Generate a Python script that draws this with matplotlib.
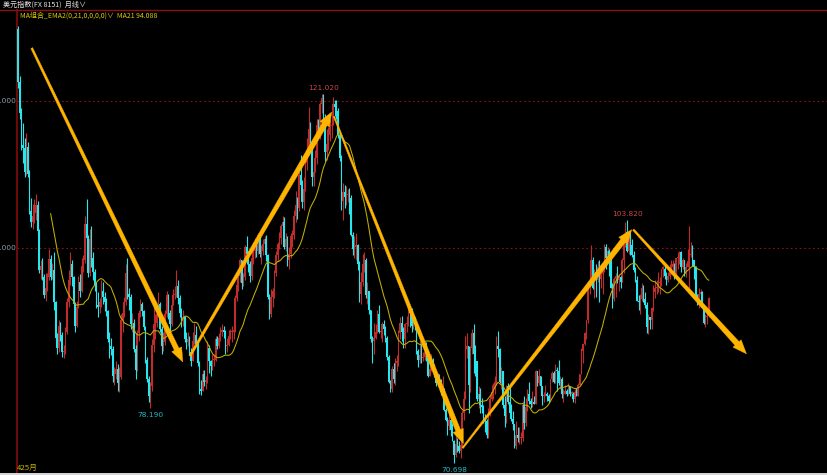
import numpy as np
import pandas as pd
import matplotlib
matplotlib.use("Agg")
import matplotlib.pyplot as plt
from matplotlib.patches import Polygon, Rectangle
from matplotlib.lines import Line2D
import matplotlib.transforms as mtransforms

# ---------------- data: US Dollar Index monthly, Dec 1985 .. Mar 2021 ----------------
FIRST_OPEN = 129.8

CLOSE = [
    122.6,  # 1985-12
    118.4, 114.0, 113.6, 110.4, 113.7, 110.1, 105.0, 103.6, 104.4, 104.8, 105.8, 102.3,  # 1986
    97.0, 97.5, 96.0, 93.6, 94.6, 96.0, 98.5, 96.0, 97.0, 92.6, 87.8, 86.4,  # 1987
    89.4, 88.2, 85.8, 86.0, 88.6, 92.6, 95.6, 97.8, 96.0, 92.4, 89.4, 92.0,  # 1988
    95.4, 94.2, 97.6, 98.4, 103.2, 101.4, 96.6, 101.2, 98.6, 96.8, 95.0, 92.2,  # 1989
    92.0, 92.6, 94.2, 93.4, 92.6, 91.4, 87.6, 86.6, 86.2, 82.6, 82.8, 83.6,  # 1990
    81.6, 82.4, 90.2, 91.2, 92.6, 96.6, 93.8, 93.4, 89.6, 89.8, 86.2, 83.4,  # 1991
    88.4, 91.2, 92.4, 91.4, 89.2, 84.8, 82.2, 79.8, 81.2, 86.8, 89.6, 89.8,  # 1992
    91.0, 92.4, 89.0, 86.6, 87.2, 91.0, 93.6, 91.2, 89.6, 92.2, 93.6, 93.8,  # 1993
    94.8, 93.2, 91.2, 90.2, 90.6, 87.6, 87.2, 87.6, 85.8, 84.6, 87.4, 88.2,  # 1994
    87.0, 84.4, 80.8, 80.6, 82.8, 81.8, 82.0, 86.4, 84.6, 84.0, 84.8, 84.8,  # 1995
    87.6, 86.6, 87.8, 88.6, 88.8, 88.6, 86.6, 86.8, 88.0, 88.6, 88.6, 88.8,  # 1996
    93.2, 95.0, 96.2, 98.4, 95.2, 96.0, 100.2, 99.2, 97.8, 96.2, 98.6, 99.6,  # 1997
    100.4, 99.6, 101.8, 99.2, 99.6, 100.6, 101.2, 99.0, 93.4, 91.0, 93.4, 94.2,  # 1998
    96.6, 99.0, 100.6, 101.4, 103.0, 103.6, 100.2, 101.2, 98.4, 99.2, 101.6, 101.8,  # 1999
    104.4, 105.8, 105.4, 110.0, 108.6, 106.2, 108.0, 111.6, 113.4, 116.2, 114.2, 109.6,  # 2000
    110.4, 112.2, 116.8, 115.6, 119.6, 120.4, 117.0, 113.0, 114.2, 115.4, 116.6, 116.8,  # 2001
    119.6, 119.2, 118.6, 115.4, 112.2, 106.4, 107.6, 107.0, 107.2, 107.2, 106.8, 101.8,  # 2002
    99.8, 100.2, 100.4, 97.8, 93.8, 95.4, 97.8, 98.4, 93.6, 94.2, 91.6, 87.6,  # 2003
    87.4, 87.8, 88.6, 91.0, 88.6, 88.6, 89.6, 89.0, 87.8, 85.2, 81.8, 80.8,  # 2004
    83.6, 82.2, 84.4, 84.6, 88.4, 89.8, 88.6, 87.6, 89.6, 89.8, 91.6, 91.2,  # 2005
    89.4, 90.2, 89.6, 86.0, 84.8, 85.4, 85.0, 85.2, 85.8, 85.0, 82.6, 83.6,  # 2006
    84.8, 83.6, 82.8, 81.6, 82.4, 82.0, 80.4, 80.8, 78.0, 76.6, 75.8, 76.6,  # 2007
    75.2, 73.8, 71.8, 73.4, 73.0, 72.4, 73.2, 77.6, 79.4, 86.2, 86.6, 81.4,  # 2008
    86.4, 88.4, 85.6, 84.6, 79.4, 80.2, 78.6, 78.4, 76.6, 76.4, 74.6, 77.8,  # 2009
    79.4, 80.4, 81.0, 81.8, 86.6, 86.2, 81.8, 83.2, 78.6, 77.2, 81.2, 79.0,  # 2010
    77.6, 76.8, 76.0, 73.0, 74.6, 74.2, 74.2, 74.2, 78.6, 76.2, 78.4, 80.2,  # 2011
    79.2, 78.8, 79.0, 78.8, 83.2, 81.6, 82.6, 81.2, 79.8, 79.8, 80.2, 79.8,  # 2012
    79.2, 82.2, 83.0, 81.8, 83.4, 83.2, 81.6, 82.2, 80.2, 80.2, 80.6, 80.2,  # 2013
    81.2, 80.2, 80.2, 79.4, 80.4, 79.8, 81.4, 82.8, 86.0, 87.0, 88.4, 90.2,  # 2014
    94.8, 95.4, 98.4, 94.6, 96.8, 95.6, 97.4, 95.8, 96.4, 97.0, 100.2, 98.6,  # 2015
    99.6, 98.2, 94.6, 93.0, 95.8, 96.2, 95.6, 96.0, 95.4, 98.4, 101.6, 102.2,  # 2016
    99.6, 101.2, 100.4, 99.0, 97.0, 95.6, 92.8, 92.6, 93.0, 94.6, 93.0, 92.2,  # 2017
    89.2, 90.6, 90.2, 91.8, 94.0, 94.6, 94.6, 95.2, 95.2, 97.2, 97.2, 96.2,  # 2018
    95.6, 96.2, 97.4, 97.4, 97.8, 96.2, 98.6, 98.8, 99.4, 97.4, 98.4, 96.4,  # 2019
    97.4, 98.2, 99.0, 99.0, 98.4, 97.4, 93.4, 92.2, 93.8, 94.0, 91.8, 89.8,  # 2020
    90.6, 90.8, 93.2,  # 2021
]

HIGH = [
    130.2,
    123.4, 119.0, 117.0, 115.0, 115.6, 114.4, 110.6, 106.8, 106.0, 106.6, 107.4, 106.4,
    102.6, 98.4, 98.6, 96.4, 96.6, 96.6, 99.8, 99.0, 98.0, 99.4, 92.8, 88.4,
    90.2, 90.0, 88.6, 86.8, 89.2, 93.2, 97.0, 99.4, 98.4, 96.2, 92.6, 92.8,
    96.2, 96.4, 98.6, 99.0, 104.4, 106.6, 101.8, 102.6, 103.0, 99.4, 97.2, 95.4,
    94.0, 93.2, 95.6, 95.4, 94.0, 93.2, 91.6, 88.6, 87.8, 86.6, 83.8, 84.6,
    84.2, 83.8, 91.0, 92.4, 93.4, 97.8, 98.7, 94.6, 93.8, 91.2, 90.4, 86.8,
    88.8, 91.6, 93.0, 92.6, 91.6, 89.4, 85.2, 82.6, 81.8, 87.6, 92.2, 91.0,
    92.2, 94.0, 92.6, 89.4, 88.6, 91.6, 94.2, 93.8, 91.6, 92.6, 94.4, 94.8,
    97.0, 95.6, 93.6, 91.8, 91.6, 90.8, 88.6, 88.6, 88.0, 86.4, 88.6, 89.8,
    89.4, 87.2, 84.6, 82.0, 83.4, 83.4, 82.6, 87.4, 86.8, 84.8, 85.6, 85.6,
    88.0, 88.0, 88.4, 89.2, 89.6, 89.4, 88.8, 87.8, 88.8, 89.0, 89.4, 89.2,
    93.6, 96.6, 96.8, 98.6, 98.4, 96.6, 100.4, 101.6, 99.6, 98.2, 99.2, 100.8,
    101.4, 101.0, 102.0, 102.2, 100.4, 101.2, 101.6, 101.8, 99.2, 93.8, 94.4, 94.6,
    97.0, 99.6, 100.8, 102.2, 103.2, 104.4, 104.2, 102.0, 101.6, 100.2, 102.0, 102.4,
    105.2, 107.8, 107.0, 110.4, 112.6, 109.2, 109.6, 112.0, 115.0, 119.2, 117.2, 114.4,
    111.4, 113.4, 117.6, 117.6, 119.8, 121.0, 121.02, 118.2, 116.2, 116.4, 117.6, 118.2,
    120.6, 120.2, 120.2, 119.0, 115.8, 112.6, 108.8, 108.6, 108.4, 108.0, 108.2, 107.2,
    102.2, 101.6, 102.0, 100.6, 98.2, 96.8, 99.2, 99.4, 98.6, 95.4, 94.0, 91.6,
    88.0, 89.8, 89.6, 91.6, 92.2, 89.4, 90.0, 90.2, 89.4, 88.0, 85.4, 82.0,
    84.0, 84.4, 85.0, 85.4, 88.8, 90.6, 90.8, 89.2, 89.8, 90.8, 92.6, 91.8,
    91.8, 90.8, 90.6, 89.8, 86.2, 87.4, 87.0, 85.8, 86.6, 87.2, 85.6, 84.2,
    85.6, 85.0, 84.2, 83.0, 83.0, 82.8, 82.2, 82.6, 81.0, 78.2, 77.0, 77.6,
    76.8, 76.2, 73.9, 74.6, 74.2, 73.8, 73.6, 78.0, 80.6, 88.0, 88.4, 86.6,
    86.6, 89.0, 89.6, 86.8, 84.6, 81.2, 81.0, 79.6, 78.6, 77.4, 76.8, 78.2,
    80.0, 81.4, 81.6, 82.6, 88.0, 88.7, 86.4, 83.8, 83.2, 79.8, 81.4, 81.6,
    81.4, 78.8, 77.8, 76.0, 76.4, 75.6, 75.6, 75.0, 79.2, 79.8, 79.6, 80.8,
    81.8, 79.6, 80.6, 79.8, 83.4, 83.0, 83.6, 82.6, 81.2, 80.4, 81.4, 80.4,
    80.2, 82.2, 83.2, 83.2, 84.2, 83.8, 84.8, 82.6, 82.4, 80.8, 81.4, 80.8,
    81.6, 81.2, 80.6, 80.4, 80.8, 81.0, 81.6, 82.8, 86.4, 86.8, 88.6, 90.2,
    95.4, 95.8, 100.4, 98.8, 97.2, 97.8, 98.2, 98.4, 96.8, 97.8, 100.6, 100.5,
    100.2, 99.8, 98.6, 95.2, 96.0, 96.6, 97.6, 96.4, 96.2, 98.6, 102.0, 103.6,
    103.82, 101.8, 102.2, 101.2, 99.6, 97.4, 96.2, 93.6, 93.8, 95.2, 95.0, 94.0,
    92.6, 91.0, 90.6, 92.0, 95.0, 95.6, 95.6, 96.8, 96.0, 97.2, 97.6, 97.8,
    96.8, 96.8, 97.8, 98.4, 98.4, 98.0, 98.6, 99.4, 99.6, 99.6, 98.6, 98.4,
    98.0, 99.8, 102.99, 100.8, 100.4, 97.8, 97.6, 93.8, 94.6, 94.4, 94.2, 92.0,
    91.0, 91.4, 93.4,
]

LOW = [
    121.8,
    117.6, 113.4, 111.6, 109.6, 110.0, 109.6, 104.6, 102.8, 102.6, 103.4, 103.8, 101.8,
    96.6, 95.8, 95.6, 93.2, 92.8, 94.2, 95.6, 95.6, 95.8, 91.6, 87.4, 85.6,
    85.8, 87.4, 85.2, 85.0, 85.6, 88.3, 92.0, 95.0, 94.8, 92.0, 88.6, 89.2,
    91.8, 93.4, 94.0, 96.8, 98.0, 99.4, 96.0, 96.2, 97.4, 95.6, 94.2, 91.8,
    90.6, 91.2, 92.0, 92.4, 91.4, 90.8, 87.2, 85.0, 85.4, 81.8, 81.4, 82.2,
    80.6, 80.4, 82.2, 88.6, 90.6, 92.2, 93.0, 91.6, 89.0, 88.6, 85.8, 82.2,
    83.2, 87.4, 90.6, 90.8, 88.8, 84.4, 81.8, 79.0, 78.19, 80.6, 85.8, 87.6,
    89.2, 90.8, 88.6, 85.6, 86.0, 86.8, 90.6, 90.4, 88.6, 89.4, 92.2, 93.0,
    93.4, 92.4, 90.6, 89.2, 89.4, 87.2, 86.2, 86.6, 85.4, 84.0, 84.6, 87.0,
    86.6, 84.0, 80.2, 80.05, 80.6, 81.2, 80.8, 81.6, 83.0, 82.6, 83.4, 84.0,
    84.6, 86.2, 86.4, 87.4, 88.0, 87.8, 85.6, 85.8, 86.6, 87.6, 87.2, 87.6,
    88.6, 92.8, 94.2, 95.4, 94.4, 94.8, 95.6, 97.8, 96.8, 95.4, 95.6, 97.8,
    98.6, 98.8, 99.2, 98.8, 97.8, 99.0, 99.6, 98.2, 93.0, 90.4, 90.6, 92.0,
    93.2, 96.2, 98.2, 99.8, 100.6, 102.2, 99.8, 99.6, 97.6, 97.2, 98.6, 100.2,
    101.2, 103.6, 104.0, 105.0, 107.2, 105.4, 105.2, 107.8, 110.6, 112.6, 113.6, 108.4,
    108.4, 110.4, 111.4, 115.0, 114.8, 118.4, 116.6, 111.8, 112.0, 113.4, 114.6, 115.0,
    116.8, 118.0, 117.6, 115.0, 111.8, 105.2, 103.8, 105.4, 105.8, 106.2, 104.6, 101.6,
    99.0, 98.6, 98.4, 97.0, 92.6, 92.4, 94.8, 96.8, 93.2, 92.4, 91.0, 87.2,
    84.4, 85.6, 87.6, 88.4, 88.4, 87.8, 87.2, 88.2, 87.2, 84.8, 81.6, 80.4,
    80.4, 81.6, 81.4, 83.2, 84.0, 87.6, 87.4, 86.4, 86.4, 88.6, 89.4, 89.2,
    88.6, 89.0, 88.8, 85.6, 83.8, 84.4, 84.4, 84.6, 84.8, 84.6, 82.4, 82.8,
    83.2, 83.4, 82.4, 81.2, 81.2, 81.6, 80.0, 80.2, 77.8, 76.4, 74.6, 75.2,
    74.4, 73.8, 70.698, 71.6, 72.2, 72.1, 71.4, 72.8, 76.6, 80.0, 85.0, 77.6,
    80.4, 85.6, 83.0, 82.6, 79.2, 78.2, 77.6, 77.6, 76.2, 75.0, 74.2, 74.2,
    77.2, 79.2, 79.4, 80.2, 81.4, 85.2, 81.6, 80.8, 78.2, 75.6, 76.2, 78.8,
    77.0, 76.4, 75.2, 72.8, 72.7, 73.6, 73.4, 73.4, 73.8, 75.4, 75.8, 77.8,
    78.8, 78.2, 78.4, 78.8, 78.8, 81.2, 81.4, 81.0, 78.6, 79.0, 79.8, 79.2,
    78.9, 79.2, 81.8, 81.6, 81.6, 80.6, 81.4, 80.8, 79.6, 79.0, 80.2, 79.8,
    80.0, 79.8, 79.4, 79.0, 78.9, 80.0, 79.8, 81.2, 82.8, 84.4, 86.8, 87.6,
    89.8, 93.8, 94.8, 94.4, 93.2, 93.4, 95.4, 92.6, 94.6, 93.8, 96.8, 97.2,
    98.0, 96.2, 94.6, 91.9, 92.8, 93.4, 95.2, 94.2, 94.6, 95.4, 96.6, 100.2,
    99.4, 99.2, 99.0, 98.8, 96.8, 95.4, 92.8, 91.6, 91.0, 92.8, 92.6, 91.8,
    88.4, 88.25, 89.0, 89.0, 91.4, 93.2, 93.8, 94.0, 93.8, 94.8, 96.0, 95.8,
    95.0, 95.4, 95.8, 96.4, 96.8, 95.8, 96.0, 97.2, 97.8, 96.8, 97.2, 96.2,
    96.0, 97.4, 94.6, 98.8, 97.6, 95.8, 93.2, 92.2, 91.8, 92.4, 91.8, 89.6,
    89.2, 89.6, 90.6,
]

# hand-drawn trend arrows: (bar index, price) start and tip
ARROW_FROM = [(8.4, 127.2), (105.3, 85.3), (193.5, 117.9), (272.3, 72.8), (376.8, 102.5)]
ARROW_TO = [(100.9, 84.5), (192.1, 118.5), (272.7, 73.4), (375.8, 102.5), (446.1, 85.6)]
ARROW_W0 = [2.0, 2.2, 1.4, 1.6, 1.8]
ARROW_W1 = [5.0, 5.5, 5.0, 5.5, 5.5]

# bar ranges in which the marked extremes are searched
PEAK_RANGES = [(150, 250), (360, 400)]
TROUGH_RANGES = [(60, 120), (250, 300)]

GRID_LEVELS = [120.0, 100.0]
GRID_LABELS = ["120.000", "100.000"]

TITLE = "美元指数(FX 8151)  月线∨"
LEGEND = "MA组合_EMA2(0,21,0,0,0,0)∨  MA21 94.088"
BOTTOM_LABEL = "425月"
MA_N = 21

# ---------------- styling ----------------
BG = "#000000"
UP = "#c02c2c"
DOWN = "#26e6ee"
MA_COLOR = "#c2b200"
ARROW_COLOR = "#ffb400"
AXIS_RED = "#7a0a0a"
GRID_RED = "#8a1414"
CJK = ["Noto Sans CJK SC", "DejaVu Sans"]

W, H = 828, 475
fig = plt.figure(figsize=(W / 100, H / 100), dpi=100, facecolor=BG)
ax = fig.add_axes([17 / W, 2 / H, (W - 17) / W, (473 - 10) / H])
ax.set_facecolor(BG)

c = np.array(CLOSE, float)
hi = np.array(HIGH, float)
lo = np.array(LOW, float)
o = np.concatenate([[FIRST_OPEN], c[:-1]])
n = len(c)
k = np.arange(n)
hi = np.maximum(hi, np.maximum(o, c))
lo = np.minimum(lo, np.minimum(o, c))
up = c >= o

# scale: 100 at y=248 px, 120 at y=101 px
ppu = (248 - 101) / 20.0
ax.set_ylim(100 - (473 - 248) / ppu, 100 + (248 - 10) / ppu)
pxk = 1.633
ax.set_xlim((17 - 18) / pxk, (828 - 18) / pxk)

for lvl in GRID_LEVELS:
    ax.axhline(lvl, color=GRID_RED, lw=0.8, ls=(0, (1.5, 2.5)), zorder=1)

for mask, col in ((up, UP), (~up, DOWN)):
    ax.vlines(k[mask], lo[mask], hi[mask], color=col, lw=0.8, zorder=3)
    body_lo = np.minimum(o, c)[mask]
    body_h = np.maximum(np.abs(c - o)[mask], 0.15)
    ax.bar(k[mask], body_h, bottom=body_lo, width=0.9, color=col, lw=0, zorder=3)

ma = pd.Series(c).rolling(MA_N).mean()
ax.plot(k, ma, color=MA_COLOR, lw=0.75, zorder=4)

# tapered arrows
fig.canvas.draw()
inv = ax.transData.inverted()
for (p0, p1, w0, w1) in zip(ARROW_FROM, ARROW_TO, ARROW_W0, ARROW_W1):
    a = ax.transData.transform(p0)
    b = ax.transData.transform(p1)
    d = b - a
    L = np.hypot(*d)
    u = d / L
    nrm = np.array([-u[1], u[0]])
    head_len, head_w = 14.0, 11.0
    base = b - u * head_len
    pts = [a + nrm * w0 / 2, base + nrm * w1 / 2, base + nrm * head_w / 2, b,
           base - nrm * head_w / 2, base - nrm * w1 / 2, a - nrm * w0 / 2]
    pts = inv.transform(np.array(pts))
    ax.add_patch(Polygon(pts, closed=True, facecolor=ARROW_COLOR, edgecolor=ARROW_COLOR,
                         lw=0.3, zorder=6, clip_on=False))

# extreme value labels
num_font = dict(family=["DejaVu Sans"], fontsize=5.3)
for s0, s1 in PEAK_RANGES:
    i = s0 + int(np.argmax(hi[s0:s1]))
    ax.annotate(f"{hi[i]:.3f}", (k[i], hi[i]), xytext=(0, 2), textcoords="offset points",
                ha="center", va="bottom", color="#c84848", **num_font)
for s0, s1 in TROUGH_RANGES:
    i = s0 + int(np.argmin(lo[s0:s1]))
    ax.annotate(f"{lo[i]:.3f}", (k[i], lo[i]), xytext=(0, -2.5), textcoords="offset points",
                ha="center", va="top", color="#22b8c8", annotation_clip=False, **num_font)

# axes decoration
for s in ("top", "right", "bottom"):
    ax.spines[s].set_visible(False)
ax.spines["left"].set_color(AXIS_RED)
ax.spines["left"].set_linewidth(1.3)
ax.set_xticks([])
ax.set_yticks([])

blend = mtransforms.blended_transform_factory(fig.transFigure, ax.transData)
for lvl, lab in zip(GRID_LEVELS, GRID_LABELS):
    fig.text(16 / W, lvl, lab, transform=blend, ha="right", va="center",
             color="#8d9cac", family=["DejaVu Sans"], fontsize=5.3)

# top separator line
fig.add_artist(Line2D([0, 1], [1 - 10 / H, 1 - 10 / H], transform=fig.transFigure,
                      color="#8a1010", lw=1.0))
# title and indicator legend
fig.text(3 / W, 1 - 5 / H, TITLE, color="#e6e6e6", family=CJK, fontsize=5.1, va="center", ha="left")
fig.text(20 / W, 1 - 16 / H, LEGEND, color="#e0cc00", family=CJK, fontsize=5.0, va="center", ha="left")
fig.text(17 / W, 7 / H, BOTTOM_LABEL, color="#c8b400", family=CJK, fontsize=5.6, va="center", ha="left")

# light strip at the very bottom of the screenshot
fig.patches.append(Rectangle((0, 0), 1, 2 / H, transform=fig.transFigure,
                             facecolor="#d4d4d4", edgecolor="none"))

fig.savefig("out.png", dpi=100, facecolor=BG)
